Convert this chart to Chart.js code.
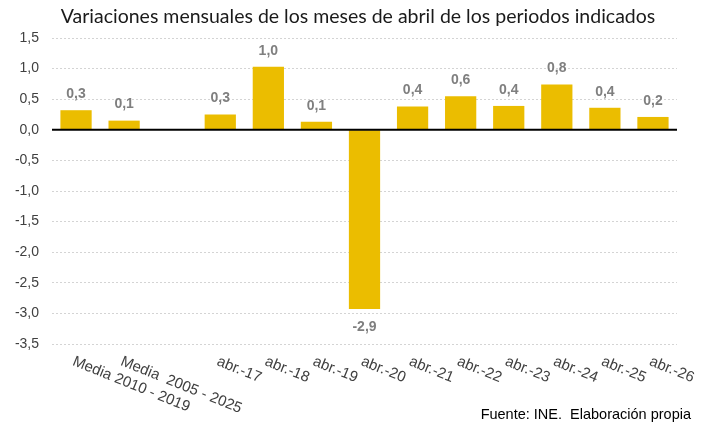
<!DOCTYPE html>
<html>
<head>
<meta charset="utf-8">
<script src="https://cdn.jsdelivr.net/npm/chart.js@4"></script>
<style>
  html, body { margin: 0; padding: 0; background: #fff; }
  #wrap { width: 713px; height: 431px; position: relative; }
</style>
</head>
<body>
<div id="wrap"><canvas id="c"></canvas></div>
<script>
  /* Variaciones mensuales de abril */
  const categories = ["Media 2010 - 2019", "Media  2005 - 2025", "", "abr.-17", "abr.-18", "abr.-19", "abr.-20",
    "abr.-21", "abr.-22", "abr.-23", "abr.-24", "abr.-25", "abr.-26"];
  const values = [0.32, 0.15, null, 0.25, 1.03, 0.13, -2.93, 0.38, 0.55, 0.39, 0.74, 0.36, 0.21];
  const valueLabels = ["0,3", "0,1", "", "0,3", "1,0", "0,1", "-2,9", "0,4", "0,6", "0,4", "0,8", "0,4", "0,2"];
  const yTicks = [1.5, 1.0, 0.5, 0.0, -0.5, -1.0, -1.5, -2.0, -2.5, -3.0, -3.5];

  const title = "Variaciones mensuales de los meses de abril de los periodos indicados";
  const source = "Fuente: INE.  Elaboración propia";
  const fmt = (v) => v.toFixed(1).replace(".", ",");
  const ARIAL = "Arial, 'Liberation Sans', sans-serif";

  const extras = {
    id: "extras",
    afterDraw(chart) {
      const ctx = chart.ctx, x = chart.scales.x, y = chart.scales.y, area = chart.chartArea;
      ctx.save();
      // zero line
      const y0 = y.getPixelForValue(0);
      ctx.strokeStyle = "#000"; ctx.lineWidth = 2;
      ctx.beginPath(); ctx.moveTo(area.left, y0); ctx.lineTo(area.right, y0); ctx.stroke();

      // value labels
      ctx.font = "bold 14px " + ARIAL;
      ctx.fillStyle = "#7f7f7f"; ctx.textAlign = "center";
      chart.getDatasetMeta(0).data.forEach((bar, i) => {
        if (values[i] == null) return;
        if (values[i] >= 0) { ctx.textBaseline = "bottom"; ctx.fillText(valueLabels[i], bar.x, bar.y - 9); }
        else { ctx.textBaseline = "top"; ctx.fillText(valueLabels[i], bar.x, bar.y + 11); }
      });

      // rotated category labels
      ctx.font = "15px " + ARIAL;
      ctx.fillStyle = "#404040"; ctx.textAlign = "left"; ctx.textBaseline = "top";
      categories.forEach((c, i) => {
        if (!c) return;
        ctx.save();
        ctx.translate(x.getPixelForValue(i), area.bottom + 10);
        ctx.rotate(22 * Math.PI / 180);
        ctx.fillText(c, 0, 0);
        ctx.restore();
      });

      // title
      ctx.font = "19.5px Lato, 'Open Sans', sans-serif";
      ctx.fillStyle = "#1a1a1a"; ctx.textAlign = "center"; ctx.textBaseline = "middle";
      ctx.fillText(title, 358, 17);

      // source
      ctx.font = "14.5px " + ARIAL;
      ctx.fillStyle = "#000"; ctx.textAlign = "right"; ctx.textBaseline = "middle";
      ctx.fillText(source, 691, 415);
      ctx.restore();
    }
  };

  new Chart(document.getElementById("c"), {
    type: "bar",
    data: {
      labels: categories,
      datasets: [{ data: values, backgroundColor: "#EBBD00", categoryPercentage: 1, barPercentage: 0.65 }]
    },
    options: {
      responsive: true, maintainAspectRatio: false, animation: false,
      layout: { padding: { top: 38, bottom: 79, right: 36, left: 0 } },
      plugins: { legend: { display: false }, tooltip: { enabled: false } },
      scales: {
        x: { grid: { display: false }, border: { display: false }, ticks: { display: false } },
        y: {
          min: -3.5, max: 1.5,
          afterFit: (s) => { s.width = 52; },
          afterBuildTicks: (s) => { s.ticks = yTicks.map((v) => ({ value: v })); },
          border: { display: false, dash: [2, 2] },
          grid: { drawTicks: false, color: (c) => c.tick && c.tick.value === 0 ? "rgba(0,0,0,0)" : "#d4d4d4" },
          ticks: { padding: 13, color: "#404040", font: { family: ARIAL, size: 14 }, callback: (v) => fmt(v) }
        }
      }
    },
    plugins: [extras]
  });
</script>
</body>
</html>
